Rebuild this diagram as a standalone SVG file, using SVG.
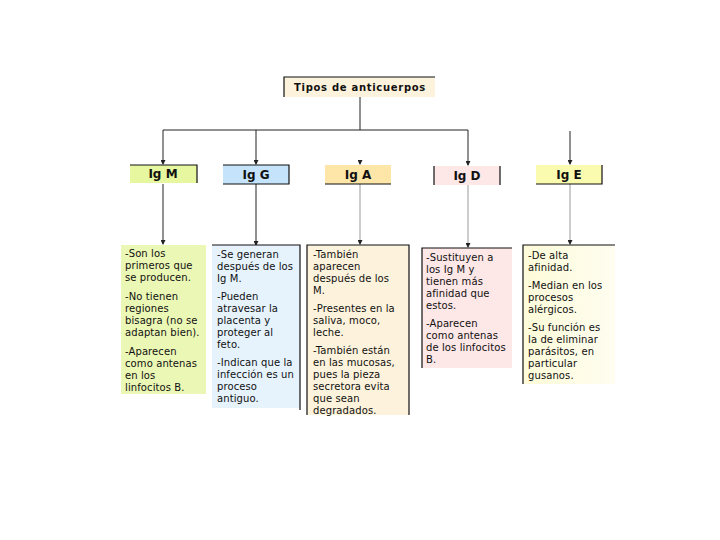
<svg xmlns="http://www.w3.org/2000/svg" width="720" height="540" viewBox="0 0 720 540">
<style>
.hd{font-family:"DejaVu Sans","Verdana",sans-serif;font-size:12px;font-weight:bold;fill:#111;text-anchor:middle}
.tt{font-family:"DejaVu Sans","Verdana",sans-serif;font-size:10px;font-weight:bold;fill:#111;text-anchor:middle;letter-spacing:0.7px}
.bd{font-family:"DejaVu Sans","Verdana",sans-serif;font-size:10px;fill:#111;letter-spacing:0.1px}
.ln{stroke:#222;stroke-width:1;fill:none}
.lg{stroke:#999;stroke-width:1;fill:none}
.bl{stroke:#111;stroke-width:1.2;fill:none}
</style>
<defs>
<marker id="ar" markerWidth="5" markerHeight="5" refX="4" refY="2.5" orient="auto" markerUnits="userSpaceOnUse">
<path d="M0,0 L5,2.5 L0,5 Z" fill="#222"/>
</marker>
<linearGradient id="ge" x1="0" y1="0" x2="1" y2="0">
<stop offset="0" stop-color="#fdfbd8"/>
<stop offset="1" stop-color="#fefdf0"/>
</linearGradient>
</defs>
<rect width="720" height="540" fill="#fff"/>

<g id="connectors">
<path class="ln" d="M360,97 V130"/>
<path class="ln" d="M163,130 H468"/>
<path class="ln" d="M163,130 V164" marker-end="url(#ar)"/>
<path class="ln" d="M256,130 V164" marker-end="url(#ar)"/>
<path class="ln" d="M468,130 V165" marker-end="url(#ar)"/>
<path class="ln" d="M360,160 V164" marker-end="url(#ar)"/>
<path class="ln" d="M570,131 V164" marker-end="url(#ar)"/>
<path class="ln" d="M163,184 V244" marker-end="url(#ar)"/>
<path class="ln" d="M256,184 V245" marker-end="url(#ar)"/>
<path class="lg" d="M360,184 V244" marker-end="url(#ar)"/>
<path class="lg" d="M468,185 V247" marker-end="url(#ar)"/>
<path class="lg" d="M570,184 V244" marker-end="url(#ar)"/>
</g>

<g id="title">
<rect x="284" y="77" width="151" height="20" fill="#fdf3dc"/>
<path class="bl" d="M284,97 V77 H435"/>
<text class="tt" x="360" y="91">Tipos de anticuerpos</text>
</g>

<g id="igm">
<rect x="130" y="165" width="67" height="18" fill="#e6f7a0"/>
<path class="bl" d="M130,165 H197 V183"/>
<text class="hd" x="163" y="178">Ig M</text>
</g>
<g id="igg">
<rect x="223" y="165" width="66" height="19" fill="#c5e4fb"/>
<path class="bl" d="M223,165 H289 V184 H223"/>
<text class="hd" x="256" y="179">Ig G</text>
</g>
<g id="iga">
<rect x="325" y="165" width="66" height="19" fill="#fde6a8"/>
<path class="bl" d="M325,184 H391"/>
<text class="hd" x="358" y="179">Ig A</text>
</g>
<g id="igd">
<rect x="434" y="166" width="66" height="19" fill="#fde7e7"/>
<path class="bl" d="M434,166 V185 M500,166 V185"/>
<text class="hd" x="467" y="180">Ig D</text>
</g>
<g id="ige">
<rect x="536" y="165" width="66" height="19" fill="#fbfbb0"/>
<path class="bl" d="M602,165 V184 H536"/>
<text class="hd" x="569" y="179">Ig E</text>
</g>

<g id="igm-body">
<rect x="121" y="245" width="85" height="149" fill="#ebf7b5"/>
<text class="bd" x="125" y="257">-Son los</text>
<text class="bd" x="125" y="269">primeros que</text>
<text class="bd" x="125" y="281">se producen.</text>
<text class="bd" x="125" y="300">-No tienen</text>
<text class="bd" x="125" y="312">regiones</text>
<text class="bd" x="125" y="324">bisagra (no se</text>
<text class="bd" x="125" y="336">adaptan bien).</text>
<text class="bd" x="125" y="355">-Aparecen</text>
<text class="bd" x="125" y="367">como antenas</text>
<text class="bd" x="125" y="379">en los</text>
<text class="bd" x="125" y="391">linfocitos B.</text>
</g>

<g id="igg-body">
<rect x="212" y="245" width="88" height="163" fill="#e6f3fd"/>
<path class="bl" d="M212,245 H300 V410"/>
<text class="bd" x="217" y="258">-Se generan</text>
<text class="bd" x="217" y="270">después de los</text>
<text class="bd" x="217" y="282">Ig M.</text>
<text class="bd" x="217" y="300">-Pueden</text>
<text class="bd" x="217" y="312">atravesar la</text>
<text class="bd" x="217" y="324">placenta y</text>
<text class="bd" x="217" y="336">proteger al</text>
<text class="bd" x="217" y="348">feto.</text>
<text class="bd" x="217" y="366">-Indican que la</text>
<text class="bd" x="217" y="378">infección es un</text>
<text class="bd" x="217" y="390">proceso</text>
<text class="bd" x="217" y="402">antiguo.</text>
</g>

<g id="iga-body">
<rect x="307" y="245" width="102" height="170" fill="#fdf3dc"/>
<path class="bl" d="M307,415 V245 H409 V415"/>
<text class="bd" x="313" y="258">-También</text>
<text class="bd" x="313" y="270">aparecen</text>
<text class="bd" x="313" y="282">después de los</text>
<text class="bd" x="313" y="294">M.</text>
<text class="bd" x="313" y="312">-Presentes en la</text>
<text class="bd" x="313" y="324">saliva, moco,</text>
<text class="bd" x="313" y="336">leche.</text>
<text class="bd" x="313" y="354">-También están</text>
<text class="bd" x="313" y="366">en las mucosas,</text>
<text class="bd" x="313" y="378">pues la pieza</text>
<text class="bd" x="313" y="390">secretora evita</text>
<text class="bd" x="313" y="402">que sean</text>
<text class="bd" x="313" y="414">degradados.</text>
</g>

<g id="igd-body">
<rect x="422" y="248" width="90" height="120" fill="#fde7e7"/>
<path class="bl" d="M422,368 V248 H512"/>
<text class="bd" x="426" y="261">-Sustituyen a</text>
<text class="bd" x="426" y="273">los Ig M y</text>
<text class="bd" x="426" y="285">tienen más</text>
<text class="bd" x="426" y="297">afinidad que</text>
<text class="bd" x="426" y="309">estos.</text>
<text class="bd" x="426" y="327">-Aparecen</text>
<text class="bd" x="426" y="339">como antenas</text>
<text class="bd" x="426" y="351">de los linfocitos</text>
<text class="bd" x="426" y="363">B.</text>
</g>

<g id="ige-body">
<rect x="523" y="245" width="92" height="139" fill="url(#ge)"/>
<path class="bl" d="M523,384 V245 H615"/>
<text class="bd" x="528" y="259">-De alta</text>
<text class="bd" x="528" y="271">afinidad.</text>
<text class="bd" x="528" y="289">-Median en los</text>
<text class="bd" x="528" y="301">procesos</text>
<text class="bd" x="528" y="313">alérgicos.</text>
<text class="bd" x="528" y="331">-Su función es</text>
<text class="bd" x="528" y="343">la de eliminar</text>
<text class="bd" x="528" y="355">parásitos, en</text>
<text class="bd" x="528" y="367">particular</text>
<text class="bd" x="528" y="379">gusanos.</text>
</g>
</svg>
